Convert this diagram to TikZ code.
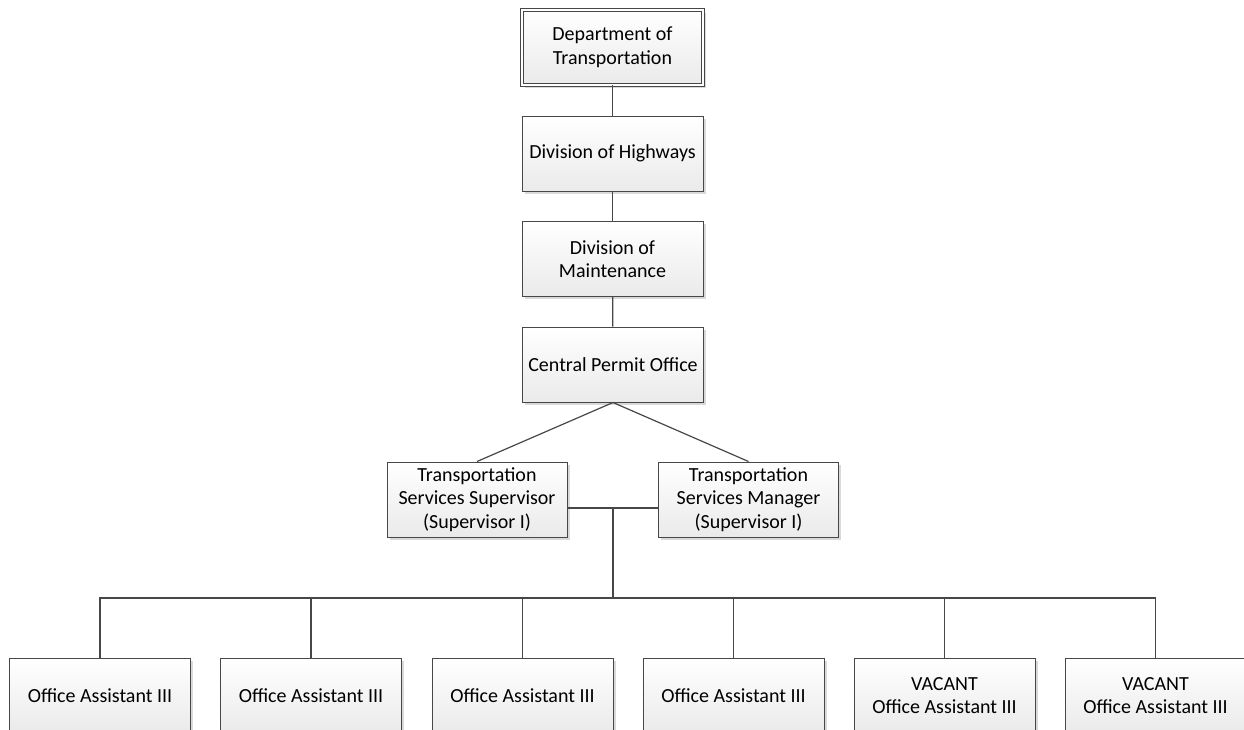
\documentclass[tikz,border=0pt]{standalone}
\usepackage{fontspec}
\setmainfont{Carlito}
\usetikzlibrary{shadows}
\definecolor{edge}{HTML}{474747}
\definecolor{fillbot}{HTML}{EAEAEA}
\begin{document}
\begin{tikzpicture}[x=1pt,y=-1pt,
  orgbox/.style={draw=edge, line width=1pt, top color=white, bottom color=fillbot,
    minimum width=181pt, minimum height=75pt, align=center, inner sep=2pt,
    font=\fontsize{20}{23.5}\selectfont, text=black,
    drop shadow={shadow xshift=2.5pt, shadow yshift=-2.5pt, fill=black, opacity=0.15}},
  topbox/.style={orgbox, double=white, double distance=2.2pt, line width=0.8pt},
  link/.style={draw=edge, line width=1.2pt}]
\useasboundingbox (0,0) rectangle (1244,729);

\node[topbox] (dot)   at (612.5,47.5)  {Department of\\Transportation};
\node[orgbox] (hwy)   at (612.5,153.5) {Division of Highways};
\node[orgbox] (maint) at (612.5,259)   {Division of\\Maintenance};
\node[orgbox] (cpo)   at (613,364.5)   {Central Permit Office};

\node[orgbox, minimum width=180pt] (sup) at (477,499.5) {Transportation\\Services Supervisor\\(Supervisor I)};
\node[orgbox, minimum width=180pt] (mgr) at (748.5,499.5) {Transportation\\Services Manager\\(Supervisor I)};

\node[orgbox] (oa1) at (100,695.5)  {Office Assistant III};
\node[orgbox] (oa2) at (311,695.5)  {Office Assistant III};
\node[orgbox] (oa3) at (522.5,695.5){Office Assistant III};
\node[orgbox] (oa4) at (733.5,695.5){Office Assistant III};
\node[orgbox] (oa5) at (944.5,695.5){VACANT\\Office Assistant III};
\node[orgbox] (oa6) at (1155.5,695.5){VACANT\\Office Assistant III};

\coordinate (junc) at (613,508);
\coordinate (bus) at (613,598);

\path[link] (dot) -- (hwy);
\path[link] (hwy) -- (maint);
\path[link] (maint) -- (cpo);
\path[link] (cpo.south) -- (sup.north);
\path[link] (cpo.south) -- (mgr.north);
\path[link] (sup.east |- junc) -- (mgr.west |- junc);
\path[link] (junc) -- (bus);
\path[link] (oa1.north) |- (bus) -| (oa6.north);
\foreach \n in {oa2,oa3,oa4,oa5}
  \path[link] (\n.north) -- (\n.north |- bus);
\end{tikzpicture}
\end{document}
